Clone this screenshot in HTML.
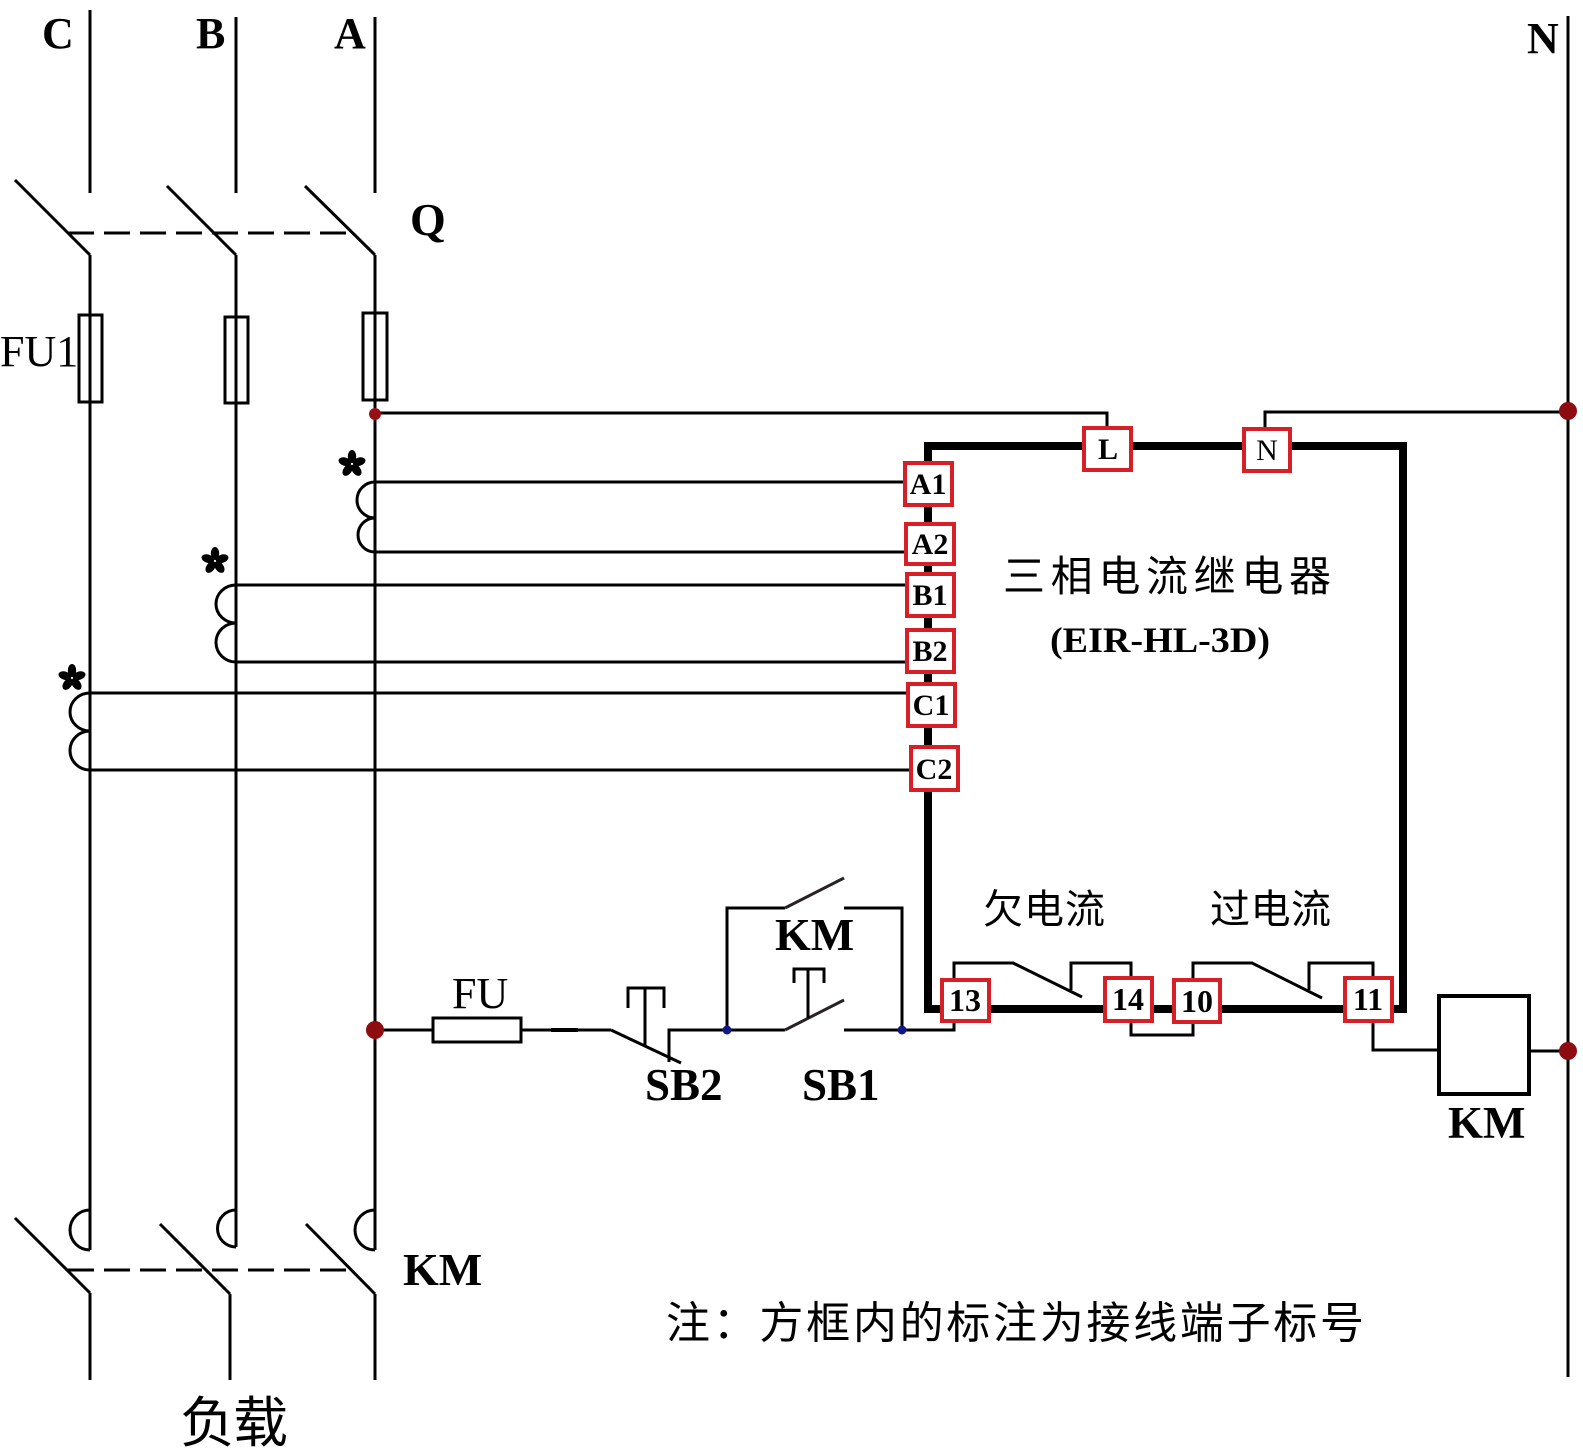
<!DOCTYPE html>
<html>
<head>
<meta charset="utf-8">
<style>
  html, body { margin: 0; padding: 0; background: #fff; }
  svg { display: block; }
  .lat { font-family: "Liberation Serif", serif; }
  .cjk { font-family: "Liberation Sans", "Noto Sans CJK SC", sans-serif; }
</style>
</head>
<body>
<svg width="1583" height="1449" viewBox="0 0 1583 1449" xmlns="http://www.w3.org/2000/svg">
  <rect x="0" y="0" width="1583" height="1449" fill="#fff"/>

  <g stroke="#000" stroke-width="3" fill="none">
    <!-- Phase C -->
    <line x1="90" y1="10" x2="90" y2="193"/>
    <line x1="15" y1="180" x2="90" y2="255"/>
    <line x1="90" y1="255" x2="90" y2="1250"/>
    <line x1="15" y1="1218" x2="90" y2="1293"/>
    <line x1="90" y1="1293" x2="90" y2="1380"/>
    <!-- Phase B -->
    <line x1="236" y1="17" x2="236" y2="193"/>
    <line x1="167" y1="186" x2="236" y2="255"/>
    <line x1="236" y1="255" x2="236" y2="1247"/>
    <line x1="160" y1="1224" x2="230" y2="1294"/>
    <line x1="230" y1="1294" x2="230" y2="1380"/>
    <!-- Phase A -->
    <line x1="375" y1="17" x2="375" y2="193"/>
    <line x1="305" y1="186" x2="375" y2="255"/>
    <line x1="375" y1="255" x2="375" y2="1250"/>
    <line x1="306" y1="1224" x2="375" y2="1294"/>
    <line x1="375" y1="1294" x2="375" y2="1380"/>
    <!-- N line -->
    <line x1="1568" y1="16" x2="1568" y2="1377"/>

    <!-- dashed linkages -->
    <line x1="68" y1="233" x2="350" y2="233" stroke-dasharray="26 10"/>
    <line x1="68" y1="1270" x2="350" y2="1270" stroke-dasharray="26 10"/>

    <!-- Fuses FU1 -->
    <rect x="79" y="315" width="23" height="87"/>
    <rect x="225" y="317" width="23" height="86"/>
    <rect x="363" y="313" width="24" height="87"/>

    <!-- KM main contact arcs -->
    <path d="M90,1210 A20,20 0 0 0 90,1250"/>
    <path d="M236,1210 A18.5,18.5 0 0 0 236,1247"/>
    <path d="M375,1210 A20,20 0 0 0 375,1250"/>

    <!-- CT coils -->
    <path d="M375,482 A18,18 0 0 0 375,518 A17,17 0 0 0 375,552"/>
    <path d="M236,585 A20,19 0 0 0 236,623 A20,19.5 0 0 0 236,662"/>
    <path d="M90,693 A20,19 0 0 0 90,731 A20,19.5 0 0 0 90,770"/>

    <!-- CT wires to terminals -->
    <line x1="375" y1="482" x2="905" y2="482"/>
    <line x1="375" y1="552" x2="906" y2="552"/>
    <line x1="236" y1="585" x2="907" y2="585"/>
    <line x1="236" y1="662" x2="907" y2="662"/>
    <line x1="90" y1="693" x2="908" y2="693"/>
    <line x1="90" y1="770" x2="911" y2="770"/>

    <!-- L and N supply wires -->
    <polyline points="375,413 1107,413 1107,428"/>
    <polyline points="1568,412 1265,412 1265,429"/>

    <!-- Control circuit -->
    <line x1="375" y1="1030" x2="433" y2="1030"/>
    <rect x="433" y="1018" width="88" height="24"/>
    <line x1="521" y1="1030" x2="611" y2="1030"/>
    <line x1="551" y1="1030" x2="578" y2="1030" stroke-width="4"/>
    <!-- SB2 (NC) -->
    <line x1="611" y1="1030" x2="681" y2="1063"/>
    <polyline points="628,1008 628,988 664,988 664,1008"/>
    <line x1="645" y1="988" x2="645" y2="1046"/>
    <polyline points="669,1062 669,1030 727,1030"/>
    <!-- SB1 (NO) -->
    <line x1="727" y1="1030" x2="785" y2="1030"/>
    <line x1="785" y1="1030" x2="844" y2="1000" stroke="#2a2222"/>
    <polyline points="794,983 794,969 824,969 824,983"/>
    <line x1="808" y1="969" x2="808" y2="1018"/>
    <line x1="844" y1="1030" x2="902" y2="1030"/>
    <!-- KM holding contact -->
    <polyline points="727,1030 727,908 785,908"/>
    <line x1="785" y1="908" x2="844" y2="878" stroke="#2a2222"/>
    <polyline points="844,908 902,908 902,1030"/>
    <polyline points="902,1030 954,1030 954,1022"/>

    <!-- Relay output contacts -->
    <polyline points="954,979 954,963 1013,963 1082,997"/>
    <polyline points="1131,977 1131,963 1071,963 1071,990"/>
    <polyline points="1131,1022 1131,1035 1193,1035 1193,1023"/>
    <polyline points="1193,979 1193,963 1252,963 1322,998"/>
    <polyline points="1373,977 1373,963 1309,963 1309,990"/>
    <polyline points="1373,1022 1373,1050 1437,1050"/>
    <line x1="1531" y1="1051" x2="1568" y2="1051"/>
    <!-- KM coil -->
    <rect x="1439" y="996" width="90" height="98" stroke-width="4"/>
  </g>

  <!-- Relay box thick outline -->
  <rect x="928" y="446" width="475" height="563" fill="none" stroke="#000" stroke-width="8"/>

  <!-- Terminal boxes -->
  <g fill="#fff" stroke="#d42026" stroke-width="4">
    <rect x="1084" y="428" width="47" height="42"/>
    <rect x="1244" y="429" width="46" height="42"/>
    <rect x="905" y="463" width="47" height="42"/>
    <rect x="906" y="524" width="48" height="40"/>
    <rect x="907" y="574" width="47" height="42"/>
    <rect x="907" y="630" width="47" height="42"/>
    <rect x="908" y="684" width="47" height="42"/>
    <rect x="911" y="747" width="47" height="43"/>
    <rect x="942" y="980" width="47" height="41"/>
    <rect x="1105" y="978" width="47" height="43"/>
    <rect x="1174" y="980" width="46" height="42"/>
    <rect x="1345" y="978" width="47" height="43"/>
  </g>

  <!-- Terminal labels -->
  <g class="lat" font-weight="bold" font-size="30" text-anchor="middle" fill="#000">
    <text x="1108" y="459">L</text>
    <text x="1267" y="460" font-weight="normal">N</text>
    <text x="928" y="494">A1</text>
    <text x="930" y="554">A2</text>
    <text x="930" y="605">B1</text>
    <text x="930" y="661">B2</text>
    <text x="931" y="715">C1</text>
    <text x="934" y="779">C2</text>
  </g>
  <g class="lat" font-weight="bold" font-size="32" text-anchor="middle" fill="#000">
    <text x="965" y="1011">13</text>
    <text x="1128" y="1010">14</text>
    <text x="1197" y="1012">10</text>
    <text x="1368" y="1010">11</text>
  </g>

  <!-- Junction dots -->
  <circle cx="375" cy="414" r="6" fill="#9a0f14"/>
  <circle cx="1568" cy="411" r="9" fill="#8c0c10"/>
  <circle cx="375" cy="1030" r="9" fill="#8c0c10"/>
  <circle cx="1568" cy="1051" r="9" fill="#8c0c10"/>
  <circle cx="727" cy="1030" r="4.5" fill="#15158a"/>
  <circle cx="902" cy="1030" r="4.5" fill="#15158a"/>

  <!-- Polarity marks (5-petal asterisks) -->
  <g fill="#000">
    <g transform="translate(352,464)">
      <ellipse cx="0" cy="-7.5" rx="4.2" ry="6.5"/>
      <ellipse cx="0" cy="-7.5" rx="4.2" ry="6.5" transform="rotate(72)"/>
      <ellipse cx="0" cy="-7.5" rx="4.2" ry="6.5" transform="rotate(144)"/>
      <ellipse cx="0" cy="-7.5" rx="4.2" ry="6.5" transform="rotate(216)"/>
      <ellipse cx="0" cy="-7.5" rx="4.2" ry="6.5" transform="rotate(288)"/>
    </g>
    <g transform="translate(215,561)">
      <ellipse cx="0" cy="-7.5" rx="4.2" ry="6.5"/>
      <ellipse cx="0" cy="-7.5" rx="4.2" ry="6.5" transform="rotate(72)"/>
      <ellipse cx="0" cy="-7.5" rx="4.2" ry="6.5" transform="rotate(144)"/>
      <ellipse cx="0" cy="-7.5" rx="4.2" ry="6.5" transform="rotate(216)"/>
      <ellipse cx="0" cy="-7.5" rx="4.2" ry="6.5" transform="rotate(288)"/>
    </g>
    <g transform="translate(72,678)">
      <ellipse cx="0" cy="-7.5" rx="4.2" ry="6.5"/>
      <ellipse cx="0" cy="-7.5" rx="4.2" ry="6.5" transform="rotate(72)"/>
      <ellipse cx="0" cy="-7.5" rx="4.2" ry="6.5" transform="rotate(144)"/>
      <ellipse cx="0" cy="-7.5" rx="4.2" ry="6.5" transform="rotate(216)"/>
      <ellipse cx="0" cy="-7.5" rx="4.2" ry="6.5" transform="rotate(288)"/>
    </g>
  </g>

  <!-- Latin labels -->
  <g class="lat" fill="#000" font-weight="bold">
    <text x="42" y="48" font-size="44">C</text>
    <text x="196" y="48" font-size="44">B</text>
    <text x="334" y="48" font-size="44">A</text>
    <text x="1527" y="53" font-size="44">N</text>
    <text x="410" y="235" font-size="46">Q</text>
    <text x="775" y="950" font-size="46">KM</text>
    <text x="645" y="1100" font-size="45">SB2</text>
    <text x="802" y="1100" font-size="45">SB1</text>
    <text x="1448" y="1138" font-size="45">KM</text>
    <text x="403" y="1285" font-size="46">KM</text>
    <text x="1050" y="652" font-size="36" textLength="220" lengthAdjust="spacingAndGlyphs">(EIR-HL-3D)</text>
  </g>
  <g class="lat" fill="#000">
    <text x="0" y="366" font-size="44">FU1</text>
    <text x="452" y="1008" font-size="44">FU</text>
  </g>

  <!-- CJK labels -->
  <g class="cjk" fill="#000">
    <text x="1003" y="591" font-size="42" textLength="328" lengthAdjust="spacing">三相电流继电器</text>
    <text x="983" y="923" font-size="40" textLength="122" lengthAdjust="spacing">欠电流</text>
    <text x="1210" y="923" font-size="40" textLength="121" lengthAdjust="spacing">过电流</text>
    <text x="666" y="1338" font-size="44" textLength="698" lengthAdjust="spacing">注：方框内的标注为接线端子标号</text>
    <text x="180" y="1442" font-size="55" textLength="108" lengthAdjust="spacing">负载</text>
  </g>
</svg>
</body>
</html>
